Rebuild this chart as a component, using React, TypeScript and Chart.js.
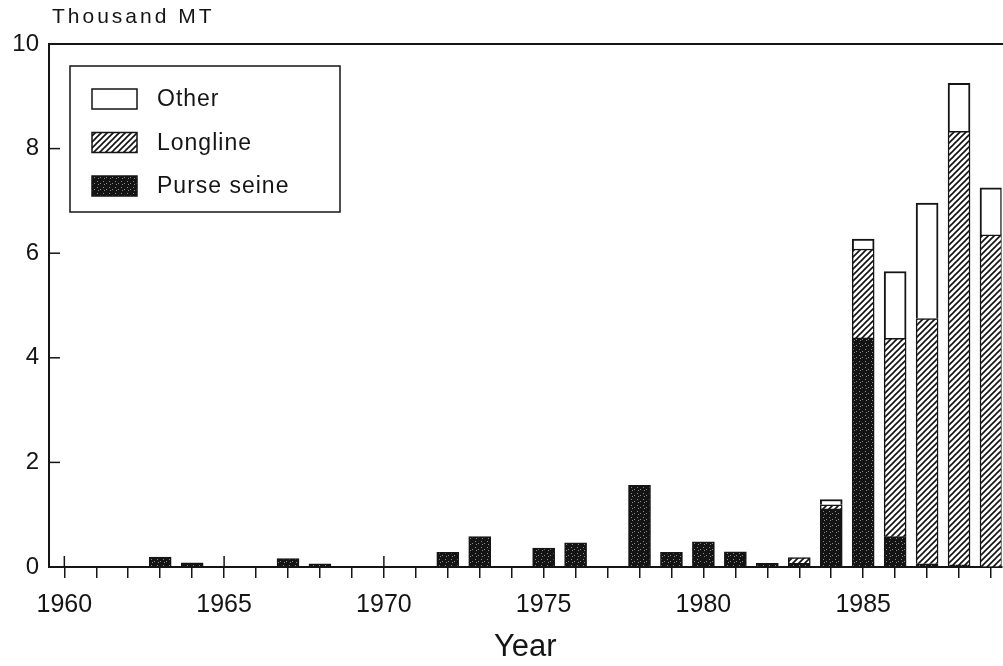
import React, { useEffect, useRef } from "react";
import { Chart, registerables } from "chart.js";

Chart.register(...registerables);

// ---- data (thousand metric tons) ----
const years = [1963, 1964, 1967, 1968, 1972, 1973, 1975, 1976, 1978, 1979, 1980, 1981, 1982, 1983, 1984, 1985, 1986, 1987, 1988, 1989];
const purseSeine = [0.19, 0.08, 0.16, 0.06, 0.28, 0.58, 0.36, 0.46, 1.56, 0.28, 0.48, 0.29, 0.07, 0.07, 1.11, 4.38, 0.58, 0.06, 0.04, null];
const longline = [null, null, null, null, null, null, null, null, null, null, null, null, null, 0.11, 0.08, 1.7, 3.79, 4.69, 8.29, 6.35];
const other = [null, null, null, null, null, null, null, null, null, null, null, null, null, null, 0.1, 0.19, 1.28, 2.21, 0.92, 0.9];
const seriesNames = ["Purse seine", "Longline", "Other"];
const yAxisTitle = "Thousand MT";
const xAxisTitle = "Year";

const FONT = "'Liberation Sans', Arial, sans-serif";
const INK = "#151515";

function makeStipple(): CanvasPattern | string {
  const c = document.createElement("canvas");
  c.width = 6;
  c.height = 6;
  const g = c.getContext("2d");
  if (!g) return INK;
  g.fillStyle = "#141414";
  g.fillRect(0, 0, 6, 6);
  g.fillStyle = "#8a8a8a";
  g.fillRect(1, 1, 1, 1);
  g.fillRect(4, 3, 1, 1);
  g.fillRect(2, 4, 1, 1);
  return g.createPattern(c, "repeat") || INK;
}

function makeHatch(): CanvasPattern | string {
  const c = document.createElement("canvas");
  c.width = 6;
  c.height = 6;
  const g = c.getContext("2d");
  if (!g) return "#888";
  g.fillStyle = "#ffffff";
  g.fillRect(0, 0, 6, 6);
  g.strokeStyle = "#111";
  g.lineWidth = 1.6;
  g.beginPath();
  g.moveTo(-1, 7);
  g.lineTo(7, -1);
  g.moveTo(-1, 1);
  g.lineTo(1, -1);
  g.moveTo(5, 7);
  g.lineTo(7, 5);
  g.stroke();
  return g.createPattern(c, "repeat") || "#888";
}

const framePlugin = {
  id: "frameExtras",
  afterDraw(chart: any) {
    const { ctx, chartArea } = chart;
    const xs = chart.scales.x;
    const ys = chart.scales.y;
    ctx.save();
    ctx.strokeStyle = INK;
    // top frame line
    ctx.lineWidth = 2;
    ctx.beginPath();
    ctx.moveTo(chartArea.left, chartArea.top);
    ctx.lineTo(chart.width, chartArea.top);
    ctx.stroke();
    // inward y ticks
    ctx.lineWidth = 1.5;
    ys.ticks.forEach((t: any) => {
      if (t.value <= ys.min || t.value >= ys.max) return;
      const py = ys.getPixelForValue(t.value);
      ctx.beginPath();
      ctx.moveTo(chartArea.left, py);
      ctx.lineTo(chartArea.left + 11, py);
      ctx.stroke();
    });
    // major x ticks crossing the axis
    xs.ticks.forEach((t: any) => {
      if (t.value % 5 !== 0) return;
      const px = xs.getPixelForValue(t.value);
      ctx.beginPath();
      ctx.moveTo(px, chartArea.bottom);
      ctx.lineTo(px, chartArea.bottom - 11);
      ctx.stroke();
    });
    // y axis title
    ctx.fillStyle = INK;
    ctx.font = `21px ${FONT}`;
    ctx.textBaseline = "alphabetic";
    ctx.textAlign = "left";
    try { (ctx as any).letterSpacing = "3px"; } catch (e) {}
    ctx.fillText(yAxisTitle, chartArea.left + 3, 23);
    try { (ctx as any).letterSpacing = "0px"; } catch (e) {}
    ctx.restore();
  },
};

const legendPlugin = {
  id: "boxLegend",
  afterDraw(chart: any) {
    const { ctx, chartArea } = chart;
    const bx = chartArea.left + 21;
    const by = chartArea.top + 22;
    const bw = 270;
    const bh = 146;
    ctx.save();
    ctx.fillStyle = "#fff";
    ctx.fillRect(bx, by, bw, bh);
    ctx.strokeStyle = INK;
    ctx.lineWidth = 1.5;
    ctx.strokeRect(bx, by, bw, bh);
    const ds = chart.data.datasets.slice().reverse();
    ds.forEach((d: any, k: number) => {
      const cy = by + 33 + k * 43.5;
      ctx.fillStyle = d.backgroundColor;
      ctx.fillRect(bx + 22, cy - 10, 45, 20);
      ctx.lineWidth = 1.5;
      ctx.strokeRect(bx + 22, cy - 10, 45, 20);
      ctx.fillStyle = INK;
      ctx.font = `23px ${FONT}`;
      ctx.textBaseline = "middle";
      ctx.textAlign = "left";
      try { (ctx as any).letterSpacing = "1px"; } catch (e) {}
      ctx.fillText(d.label, bx + 87, cy + 1);
      try { (ctx as any).letterSpacing = "0px"; } catch (e) {}
    });
    ctx.restore();
  },
};

export default function App() {
  const ref = useRef<HTMLCanvasElement | null>(null);

  useEffect(() => {
    const canvas = ref.current;
    if (!canvas) return;
    const toPts = (arr: (number | null)[]) => years.map((yr, i) => ({ x: yr, y: arr[i] }));
    const stipple = makeStipple();
    const hatch = makeHatch();

    const chart = new Chart(canvas, {
      type: "bar",
      data: {
        datasets: [
          { label: seriesNames[0], data: toPts(purseSeine) as any, backgroundColor: stipple as any, borderColor: INK, borderWidth: 1.5 },
          { label: seriesNames[1], data: toPts(longline) as any, backgroundColor: hatch as any, borderColor: INK, borderWidth: 1.5 },
          { label: seriesNames[2], data: toPts(other) as any, backgroundColor: "#ffffff", borderColor: INK, borderWidth: 2 },
        ],
      },
      options: {
        responsive: false,
        animation: false,
        layout: { padding: { top: 44, left: 0, right: 0, bottom: 0 } },
        datasets: { bar: { barThickness: 22 } } as any,
        plugins: {
          legend: { display: false },
          title: { display: false },
          tooltip: { enabled: false },
        },
        scales: {
          x: {
            type: "linear",
            stacked: true,
            offset: false,
            min: 1959.52,
            max: 1989.33,
            afterFit: (s: any) => { s.height = 99; },
            grid: { display: true, offset: false, drawOnChartArea: false, drawTicks: true, tickLength: 11, color: INK, lineWidth: 1.5 },
            border: { display: true, color: INK, width: 2 },
            ticks: {
              stepSize: 1,
              includeBounds: false,
              autoSkip: false,
              maxRotation: 0,
              padding: 12,
              color: INK,
              font: { family: FONT, size: 25 },
              callback: (v: any) => (Number(v) % 5 === 0 ? String(v) : ""),
            },
            title: {
              display: true,
              text: xAxisTitle,
              color: INK,
              font: { family: FONT, size: 31 },
              padding: { top: 0, bottom: 0 },
            },
          },
          y: {
            stacked: true,
            min: 0,
            max: 10,
            afterFit: (s: any) => { s.width = 49; },
            grid: { display: true, drawOnChartArea: false, drawTicks: false },
            border: { display: true, color: INK, width: 2 },
            ticks: {
              stepSize: 2,
              padding: 10,
              color: INK,
              font: { family: FONT, size: 24 },
            },
          },
        },
      },
      plugins: [framePlugin, legendPlugin],
    });
    return () => chart.destroy();
  }, []);

  return (
    <div style={{ position: "fixed", left: 0, top: 0, width: 1003, height: 666, background: "#fff" }}>
      <canvas ref={ref} width={1003} height={666} style={{ display: "block" }} />
    </div>
  );
}
